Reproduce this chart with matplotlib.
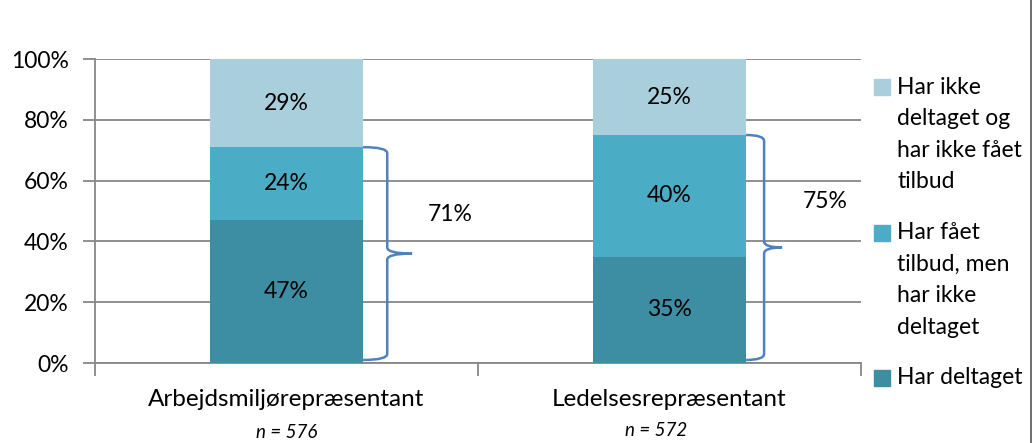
import matplotlib.pyplot as plt
import matplotlib as mpl
from matplotlib.path import Path
from matplotlib.patches import PathPatch, Rectangle
from matplotlib.lines import Line2D

# data
categories = ["Arbejdsmiljørepræsentant", "Ledelsesrepræsentant"]
n_values = [576, 572]
har_deltaget = [47, 35]
tilbud_ikke_deltaget = [24, 40]
ikke_deltaget_ikke_tilbud = [29, 25]
series_names = ["Har ikke\ndeltaget og\nhar ikke fået\ntilbud",
                "Har fået\ntilbud, men\nhar ikke\ndeltaget",
                "Har deltaget"]
colors = ["#AACFDC", "#4BACC6", "#3D8DA3"]

mpl.rcParams['font.family'] = ['Lato', 'DejaVu Sans']
fs = 16.5
grey = "#878787"


def brace(ax, x0, xv, xt, ytop, ybot, r, color="#4F81BD"):
    ytip = (ytop + ybot) / 2.0
    verts = [(x0, ytop), (xv, ytop), (xv, ytop - r),
             (xv, ytip + r), (xv, ytip), (xt, ytip),
             (xv, ytip), (xv, ytip - r),
             (xv, ybot + r), (xv, ybot), (x0, ybot)]
    codes = [Path.MOVETO, Path.CURVE3, Path.CURVE3,
             Path.LINETO, Path.CURVE3, Path.CURVE3,
             Path.CURVE3, Path.CURVE3,
             Path.LINETO, Path.CURVE3, Path.CURVE3]
    ax.add_patch(PathPatch(Path(verts, codes), fill=False, edgecolor=color,
                           lw=1.8, clip_on=False, zorder=4))


fig = plt.figure(figsize=(10.34, 4.43), dpi=100)
ax = fig.add_axes([95 / 1034, 1 - 363 / 443, 766 / 1034, 304 / 443])

x = list(range(len(categories)))
w = 0.4
b1 = ax.bar(x, har_deltaget, w, color=colors[2], zorder=3)
bottom2 = har_deltaget
b2 = ax.bar(x, tilbud_ikke_deltaget, w, bottom=bottom2, color=colors[1], zorder=3)
bottom3 = [a + b for a, b in zip(har_deltaget, tilbud_ikke_deltaget)]
b3 = ax.bar(x, ikke_deltaget_ikke_tilbud, w, bottom=bottom3, color=colors[0], zorder=3)

for bars in (b1, b2, b3):
    for rect in bars:
        h = rect.get_height()
        ax.text(rect.get_x() + rect.get_width() / 2, rect.get_y() + h / 2,
                f"{h:.0f}%", ha="center", va="center", fontsize=fs, zorder=5)

# braces with totals
brace_w = [(0.063, 0.128), (0.047, 0.094)]
label_dx = [0.427, 0.406]
for i, tot in enumerate(bottom3):
    x0 = i + w / 2
    brace(ax, x0, x0 + brace_w[i][0], x0 + brace_w[i][1], tot, 1, 2.0)
    ax.text(i + label_dx[i], tot - 22, f"{tot}%", ha="center", va="center",
            fontsize=fs)

ax.set_xlim(-0.5, 1.5)
ax.set_ylim(0, 100)
ax.set_yticks(range(0, 101, 20))
ax.set_yticklabels([f"{v}%" for v in range(0, 101, 20)])
ax.yaxis.grid(True, color=grey, lw=1.3)
ax.set_axisbelow(True)
ax.tick_params(axis="y", length=9, width=1.3, color=grey, labelsize=16.5, pad=10)

ax.set_xticks(x)
ax.set_xticklabels(categories)
ax.set_xticks([-0.5, 0.5, 1.5], minor=True)
ax.tick_params(axis="x", which="major", length=0, labelsize=17.5, pad=19)
ax.tick_params(axis="x", which="minor", length=9, width=1.3, color=grey)

for s in ("top", "right"):
    ax.spines[s].set_visible(False)
for s in ("left", "bottom"):
    ax.spines[s].set_color(grey)
    ax.spines[s].set_linewidth(1.3)

# n labels below categories
n_pos = [(287, 433), (656, 430)]
for (px, py), n in zip(n_pos, n_values):
    fig.text(px / 1034, 1 - py / 443, f"n = {n}", ha="center", va="center",
             fontsize=13.5, style="italic")

# legend drawn by hand (Excel style, handle at first line)
line_h = 31.5
starts = [87, 233, 378]
for name, y0, c in zip(series_names, starts, colors):
    fig.add_artist(Rectangle((874 / 1034, 1 - (y0 + 8) / 443), 16 / 1034, 16 / 443,
                             transform=fig.transFigure, color=c))
    for k, line in enumerate(name.split("\n")):
        fig.text(897 / 1034, 1 - (y0 + k * line_h) / 443, line, ha="left",
                 va="center", fontsize=fs)

# frame edge on the right
fig.add_artist(Line2D([1031 / 1034, 1031 / 1034], [0, 1], transform=fig.transFigure,
                      color="#555555", lw=1.2))

fig.savefig("out.png", dpi=100)
